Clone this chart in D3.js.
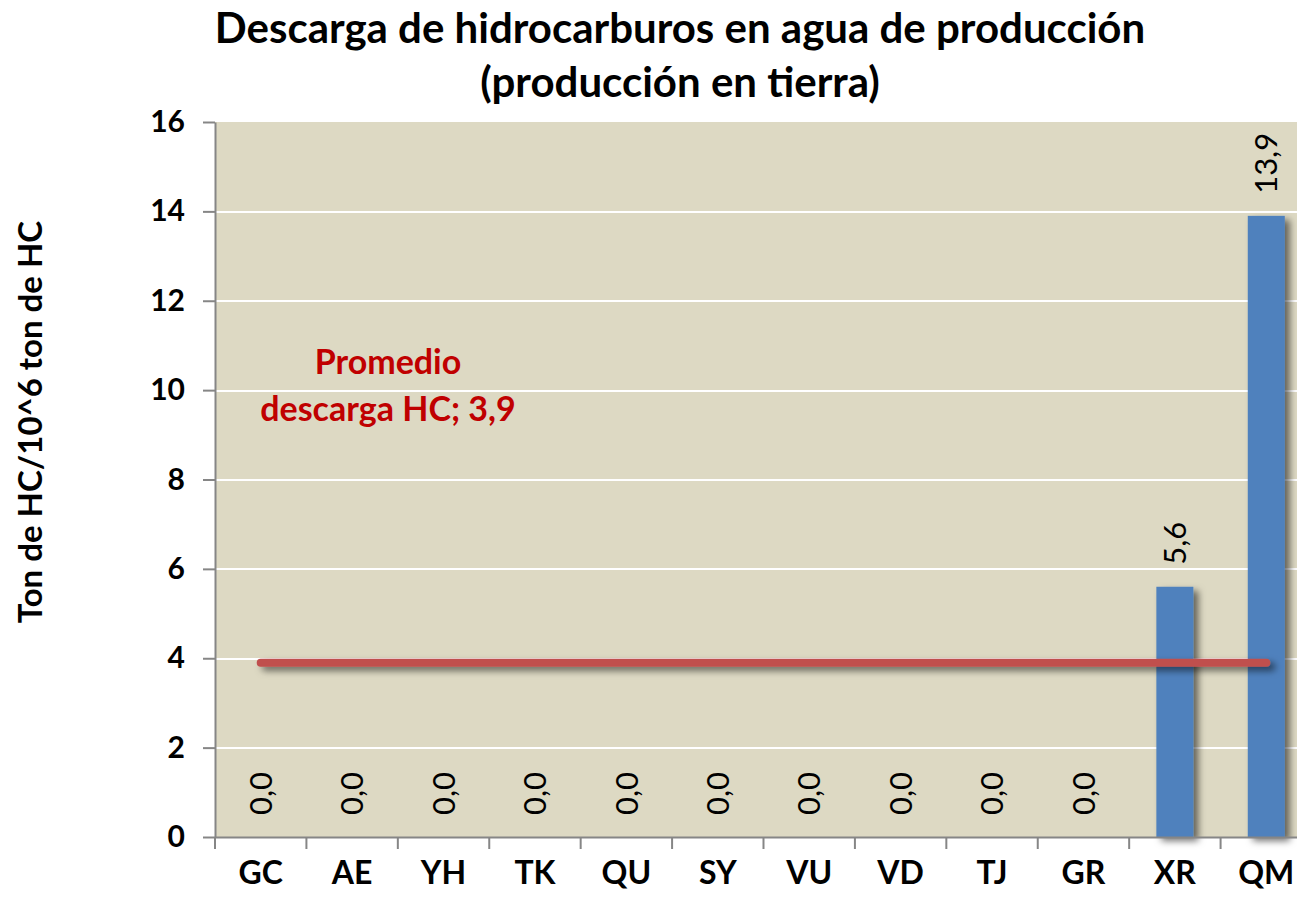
<!DOCTYPE html>
<meta charset='utf-8'>
<style>
  body { margin: 0; background: #fff; }
  text { font-family: Lato, 'Open Sans', sans-serif; }
  .grid line { stroke: #fff; stroke-width: 2px; shape-rendering: crispEdges; }
  .grid path { display: none; }
  .axis path, .axis line { stroke: #868686; stroke-width: 2px; }
  .axis text { font-weight: bold; fill: #000; }
</style>
<body>
<script src='https://d3js.org/d3.v7.min.js'></script>
<script>
  // data
  var categories = ['GC', 'AE', 'YH', 'TK', 'QU', 'SY', 'VU', 'VD', 'TJ', 'GR', 'XR', 'QM'];
  var values = [0, 0, 0, 0, 0, 0, 0, 0, 0, 0, 5.6, 13.9];
  var average = 3.9;
  var yTicks = [0, 2, 4, 6, 8, 10, 12, 14, 16];
  var titleLines = ['Descarga de hidrocarburos en agua de producción', '(producción en tierra)'];
  var avgLabel = ['Promedio', 'descarga HC; 3,9'];

  var margin = {top: 122, left: 215, bottom: 64},
      width = 1097,
      height = 715;

  var svg = d3.select('body').append('svg')
    .attr('width', 1297)
    .attr('height', 901);

  // drop shadow, in user space so the flat line keeps it too
  var defs = svg.append('defs');
  defs.append('filter').attr('id', 'shadow')
      .attr('filterUnits', 'userSpaceOnUse')
      .attr('x', -50).attr('y', -50).attr('width', 1400).attr('height', 1000)
    .append('feDropShadow')
      .attr('dx', 5).attr('dy', 4).attr('stdDeviation', 3.5)
      .attr('flood-color', '#000').attr('flood-opacity', 0.55);

  var g = svg.append('g')
    .attr('transform', 'translate(' + margin.left + ',' + margin.top + ')');

  var x = d3.scaleBand().domain(categories).range([0, width])
    .paddingInner(0.595).paddingOuter(0.2975);
  var y = d3.scaleLinear().domain([0, 16]).range([height, 0]);

  // plot background
  g.append('rect')
    .attr('width', width)
    .attr('height', height)
    .attr('fill', '#DDD9C3');

  // gridlines
  g.append('g')
    .attr('class', 'grid')
    .call(d3.axisLeft(y).tickValues(yTicks.slice(1, -1)).tickSize(-width).tickFormat(''));

  // bars
  g.selectAll('.bar')
    .data(values)
    .enter().append('rect')
    .attr('class', 'bar')
    .attr('x', function(d, i) { return x(categories[i]); })
    .attr('y', function(d) { return y(d); })
    .attr('width', x.bandwidth())
    .attr('height', function(d) { return height - y(d); })
    .attr('fill', '#4F81BD')
    .attr('filter', 'url(#shadow)');

  // average line
  g.append('line')
    .attr('x1', x(categories[0]) + x.bandwidth() / 2)
    .attr('x2', x(categories[categories.length - 1]) + x.bandwidth() / 2)
    .attr('y1', y(average))
    .attr('y2', y(average))
    .attr('stroke', '#C0504D')
    .attr('stroke-width', 8)
    .attr('stroke-linecap', 'round')
    .attr('filter', 'url(#shadow)');

  // data labels
  g.selectAll('.lbl')
    .data(values)
    .enter().append('text')
    .attr('class', 'lbl')
    .attr('transform', function(d, i) {
      return 'translate(' + (x(categories[i]) + x.bandwidth() / 2) + ',' + (y(d) - 22) + ') rotate(-90)';
    })
    .attr('dy', '0.36em')
    .style('font-size', '31px')
    .text(function(d) { return d.toFixed(1).replace('.', ','); });

  // axes
  var yAxis = g.append('g')
    .attr('class', 'axis')
    .call(d3.axisLeft(y).tickValues(yTicks).tickSize(12).tickSizeOuter(0).tickPadding(18));
  yAxis.selectAll('text').style('font-size', '30px');

  var xAxis = g.append('g')
    .attr('class', 'axis')
    .attr('transform', 'translate(0,' + height + ')')
    .call(d3.axisBottom(x).tickSize(0).tickSizeOuter(0).tickPadding(24));
  xAxis.selectAll('text').style('font-size', '32px').attr('dy', '0.71em');

  // category separator ticks
  xAxis.selectAll('.sep')
    .data(d3.range(categories.length + 1))
    .enter().append('line')
    .attr('class', 'sep')
    .attr('x1', function(i) { return i * x.step(); })
    .attr('x2', function(i) { return i * x.step(); })
    .attr('y1', 0)
    .attr('y2', 12);

  // title
  svg.append('g').selectAll('text')
    .data(titleLines)
    .enter().append('text')
    .attr('x', 680)
    .attr('y', function(d, i) { return 43 + i * 54; })
    .attr('text-anchor', 'middle')
    .style('font-size', '42px')
    .style('font-weight', 'bold')
    .text(function(d) { return d; });

  // y axis title
  svg.append('text')
    .attr('transform', 'translate(42,422) rotate(-90)')
    .attr('text-anchor', 'middle')
    .style('font-size', '33px')
    .style('font-weight', 'bold')
    .text('Ton de HC/10^6 ton de HC');

  // average annotation
  svg.append('g').selectAll('text')
    .data(avgLabel)
    .enter().append('text')
    .attr('x', 388)
    .attr('y', function(d, i) { return 374 + i * 47; })
    .attr('text-anchor', 'middle')
    .attr('fill', '#C00000')
    .style('font-size', '34px')
    .style('font-weight', 'bold')
    .text(function(d) { return d; });
</script>
</body>
